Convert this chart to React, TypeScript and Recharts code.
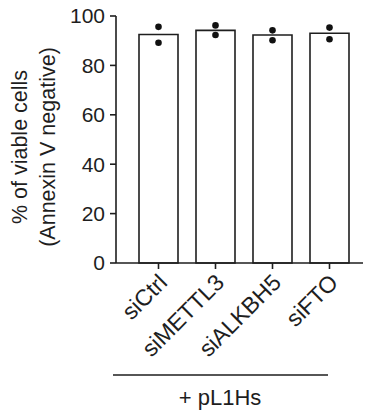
import { ComposedChart, Bar, Scatter, XAxis, YAxis } from 'recharts';

const groups = ['siCtrl', 'siMETTL3', 'siALKBH5', 'siFTO'];
const means = [92.5, 94.2, 92.3, 93.0];
const rep1 = [95.6, 96.2, 94.2, 95.3];
const rep2 = [89.2, 92.3, 90.2, 90.6];
const yTicks = [0, 20, 40, 60, 80, 100];

const FONT = '"Liberation Sans", Arial, sans-serif';
const INK = '#1e1e1e';

const data = groups.map((g, i) => ({ name: g, mean: means[i], rep1: rep1[i], rep2: rep2[i] }));

const Dot = (props: any) => {
  const { cx, cy } = props;
  if (cx == null || cy == null) return null;
  return <circle cx={cx} cy={cy} r={3.3} fill="#111" />;
};

// rotated category labels, ending just right of the tick
const XTick = ({ x, y, payload }: any) => (
  <text
    transform={`translate(${x + 10}, ${y + 13}) rotate(-45)`}
    textAnchor="end"
    fontSize={23}
    fontFamily={FONT}
    fill={INK}
  >
    {payload.value}
  </text>
);

const YLabel = () => (
  <g fontFamily={FONT} fontSize={21.5} fill={INK} textAnchor="middle">
    <text transform="translate(27, 147) rotate(-90)">% of viable cells</text>
    <text transform="translate(55, 147) rotate(-90)">(Annexin V negative)</text>
  </g>
);

export default function App() {
  return (
    <div style={{ position: 'absolute', left: 0, top: 0, width: 365, height: 415, background: '#fff' }}>
      <ComposedChart
        width={365}
        height={415}
        data={data}
        margin={{ top: 16, right: 2, left: 0, bottom: 92 }}
      >
        <XAxis
          dataKey="name"
          height={60}
          padding={{ left: 14, right: 5 }}
          tick={<XTick />}
          tickSize={6}
          tickMargin={2}
          interval={0}
          axisLine={{ stroke: INK, strokeWidth: 1.6 }}
          tickLine={{ stroke: INK, strokeWidth: 1.6 }}
        />
        <YAxis
          width={116}
          domain={[0, 100]}
          ticks={yTicks}
          tickSize={6}
          tickMargin={5}
          axisLine={{ stroke: INK, strokeWidth: 1.6 }}
          tickLine={{ stroke: INK, strokeWidth: 1.6 }}
          tick={{ fill: INK, fontSize: 21, fontFamily: FONT }}
          label={<YLabel />}
        />
        <Bar dataKey="mean" barSize={39} fill="#fff" stroke={INK} strokeWidth={1.6} isAnimationActive={false} />
        <Scatter dataKey="rep1" shape={<Dot />} isAnimationActive={false} />
        <Scatter dataKey="rep2" shape={<Dot />} isAnimationActive={false} />
      </ComposedChart>
      <svg width={365} height={415} style={{ position: 'absolute', left: 0, top: 0, pointerEvents: 'none' }}>
        <line x1={113} x2={328} y1={375} y2={375} stroke={INK} strokeWidth={1.6} />
        <text x={220} y={405} textAnchor="middle" fontSize={22} fontFamily={FONT} fill={INK}>
          + pL1Hs
        </text>
      </svg>
    </div>
  );
}
